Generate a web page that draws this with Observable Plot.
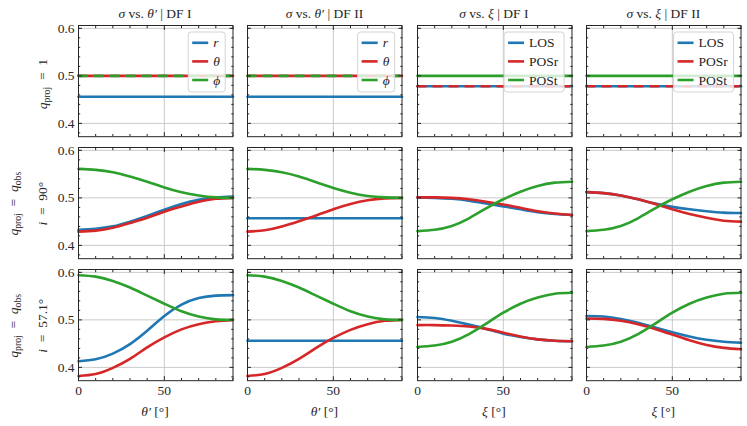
<!DOCTYPE html>
<html>
<head>
<meta charset="utf-8">
<script src="https://cdn.jsdelivr.net/npm/d3@7"></script>
<script src="https://cdn.jsdelivr.net/npm/@observablehq/plot@0.6"></script>
<style>
  body { margin: 0; background: #fff; }
  #chart { position: relative; width: 747px; height: 426px; overflow: hidden; background: #fff; }
  #chart svg.panel { position: absolute; }
  #overlay { position: absolute; left: 0; top: 0; pointer-events: none; }
</style>
</head>
<body>
<div id="chart"></div>
<script>
// ---------------- data ----------------
const angles = [0, 10, 20, 30, 40, 50, 60, 70, 80, 90];

// row 1: q_proj = 1
const thDF1_q1_r     = [0.456, 0.456, 0.456, 0.456, 0.456, 0.456, 0.456, 0.456, 0.456, 0.456];
const thDF1_q1_theta = [0.500, 0.500, 0.500, 0.500, 0.500, 0.500, 0.500, 0.500, 0.500, 0.500];
const thDF1_q1_phi   = [0.500, 0.500, 0.500, 0.500, 0.500, 0.500, 0.500, 0.500, 0.500, 0.500];
const thDF2_q1_r     = [0.456, 0.456, 0.456, 0.456, 0.456, 0.456, 0.456, 0.456, 0.456, 0.456];
const thDF2_q1_theta = [0.500, 0.500, 0.500, 0.500, 0.500, 0.500, 0.500, 0.500, 0.500, 0.500];
const thDF2_q1_phi   = [0.500, 0.500, 0.500, 0.500, 0.500, 0.500, 0.500, 0.500, 0.500, 0.500];
const xiDF1_q1_LOS   = [0.478, 0.478, 0.478, 0.478, 0.478, 0.478, 0.478, 0.478, 0.478, 0.478];
const xiDF1_q1_POSr  = [0.478, 0.478, 0.478, 0.478, 0.478, 0.478, 0.478, 0.478, 0.478, 0.478];
const xiDF1_q1_POSt  = [0.500, 0.500, 0.500, 0.500, 0.500, 0.500, 0.500, 0.500, 0.500, 0.500];
const xiDF2_q1_LOS   = [0.478, 0.478, 0.478, 0.478, 0.478, 0.478, 0.478, 0.478, 0.478, 0.478];
const xiDF2_q1_POSr  = [0.478, 0.478, 0.478, 0.478, 0.478, 0.478, 0.478, 0.478, 0.478, 0.478];
const xiDF2_q1_POSt  = [0.500, 0.500, 0.500, 0.500, 0.500, 0.500, 0.500, 0.500, 0.500, 0.500];

// row 2: q_proj = q_obs, i = 90°
const thDF1_i90_r     = [0.433, 0.435, 0.440, 0.450, 0.462, 0.475, 0.487, 0.496, 0.501, 0.503];
const thDF1_i90_theta = [0.429, 0.431, 0.437, 0.447, 0.458, 0.471, 0.482, 0.492, 0.498, 0.500];
const thDF1_i90_phi   = [0.561, 0.559, 0.554, 0.545, 0.534, 0.522, 0.512, 0.505, 0.501, 0.500];
const thDF2_i90_r     = [0.457, 0.457, 0.457, 0.457, 0.457, 0.457, 0.457, 0.457, 0.457, 0.457];
const thDF2_i90_theta = [0.429, 0.432, 0.440, 0.451, 0.463, 0.476, 0.487, 0.495, 0.499, 0.500];
const thDF2_i90_phi   = [0.561, 0.559, 0.554, 0.545, 0.533, 0.521, 0.511, 0.504, 0.501, 0.500];
const xiDF1_i90_LOS   = [0.501, 0.500, 0.498, 0.494, 0.488, 0.482, 0.476, 0.470, 0.466, 0.464];
const xiDF1_i90_POSr  = [0.501, 0.501, 0.500, 0.497, 0.492, 0.486, 0.479, 0.472, 0.467, 0.464];
const xiDF1_i90_POSt  = [0.430, 0.433, 0.441, 0.457, 0.478, 0.497, 0.513, 0.525, 0.532, 0.534];
const xiDF2_i90_LOS   = [0.512, 0.510, 0.505, 0.497, 0.488, 0.481, 0.476, 0.472, 0.469, 0.468];
const xiDF2_i90_POSr  = [0.512, 0.510, 0.505, 0.497, 0.487, 0.476, 0.466, 0.458, 0.452, 0.450];
const xiDF2_i90_POSt  = [0.430, 0.433, 0.441, 0.457, 0.478, 0.497, 0.513, 0.525, 0.532, 0.534];

// row 3: q_proj = q_obs, i = 57.1°
const thDF1_i57_r     = [0.413, 0.417, 0.429, 0.449, 0.477, 0.508, 0.532, 0.546, 0.551, 0.552];
const thDF1_i57_theta = [0.382, 0.386, 0.399, 0.418, 0.442, 0.463, 0.480, 0.491, 0.497, 0.500];
const thDF1_i57_phi   = [0.594, 0.591, 0.582, 0.568, 0.551, 0.534, 0.518, 0.507, 0.501, 0.500];
const thDF2_i57_r     = [0.456, 0.456, 0.456, 0.456, 0.456, 0.456, 0.456, 0.456, 0.456, 0.456];
const thDF2_i57_theta = [0.382, 0.386, 0.399, 0.418, 0.441, 0.462, 0.479, 0.491, 0.498, 0.500];
const thDF2_i57_phi   = [0.594, 0.591, 0.582, 0.568, 0.551, 0.534, 0.518, 0.507, 0.501, 0.500];
const xiDF1_i57_LOS   = [0.506, 0.504, 0.498, 0.490, 0.481, 0.471, 0.464, 0.459, 0.456, 0.455];
const xiDF1_i57_POSr  = [0.489, 0.489, 0.488, 0.486, 0.481, 0.473, 0.465, 0.459, 0.456, 0.455];
const xiDF1_i57_POSt  = [0.443, 0.446, 0.454, 0.470, 0.492, 0.515, 0.534, 0.547, 0.555, 0.557];
const xiDF2_i57_LOS   = [0.508, 0.507, 0.502, 0.494, 0.484, 0.474, 0.465, 0.458, 0.454, 0.452];
const xiDF2_i57_POSr  = [0.503, 0.502, 0.498, 0.491, 0.481, 0.469, 0.457, 0.447, 0.441, 0.438];
const xiDF2_i57_POSt  = [0.443, 0.446, 0.454, 0.470, 0.492, 0.515, 0.534, 0.547, 0.555, 0.557];

const thetaNames = ["r", "θ", "ϕ"];
const xiNames = ["LOS", "POSr", "POSt"];
const seriesColors = ["#1f77b4", "#d62728", "#2ca02c"];

const yMajorTicks = [0.4, 0.5, 0.6];
const yMinorTicks = [0.38, 0.42, 0.44, 0.46, 0.48, 0.52, 0.54, 0.56, 0.58, 0.60];
const xMajorTicks = [0, 50];
const xMinorTicks = [10, 20, 30, 40, 60, 70, 80, 90];

const colTitles = [
  [{t: "σ", i: 1}, {t: " vs. "}, {t: "θ′", i: 1}, {t: " | DF I"}],
  [{t: "σ", i: 1}, {t: " vs. "}, {t: "θ′", i: 1}, {t: " | DF II"}],
  [{t: "σ", i: 1}, {t: " vs. "}, {t: "ξ", i: 1}, {t: " | DF I"}],
  [{t: "σ", i: 1}, {t: " vs. "}, {t: "ξ", i: 1}, {t: " | DF II"}]
];
const qObs = [{t: "q", i: 1}, {t: "proj", sub: 1}, {t: "\u2002=\u2002"}, {t: "q", i: 1}, {t: "obs", sub: 1}];
const rowLabels = [
  [[{t: "q", i: 1}, {t: "proj", sub: 1}, {t: "\u2002=\u20021"}]],
  [qObs, [{t: "i", i: 1}, {t: "\u2002=\u200290°"}]],
  [qObs, [{t: "i", i: 1}, {t: "\u2002=\u200257.1°"}]]
];
const xLabels = [
  [{t: "θ′", i: 1}, {t: " [°]"}],
  [{t: "θ′", i: 1}, {t: " [°]"}],
  [{t: "ξ", i: 1}, {t: " [°]"}],
  [{t: "ξ", i: 1}, {t: " [°]"}]
];

const grid = [
  [[thDF1_q1_r, thDF1_q1_theta, thDF1_q1_phi], [thDF2_q1_r, thDF2_q1_theta, thDF2_q1_phi],
   [xiDF1_q1_LOS, xiDF1_q1_POSr, xiDF1_q1_POSt], [xiDF2_q1_LOS, xiDF2_q1_POSr, xiDF2_q1_POSt]],
  [[thDF1_i90_r, thDF1_i90_theta, thDF1_i90_phi], [thDF2_i90_r, thDF2_i90_theta, thDF2_i90_phi],
   [xiDF1_i90_LOS, xiDF1_i90_POSr, xiDF1_i90_POSt], [xiDF2_i90_LOS, xiDF2_i90_POSr, xiDF2_i90_POSt]],
  [[thDF1_i57_r, thDF1_i57_theta, thDF1_i57_phi], [thDF2_i57_r, thDF2_i57_theta, thDF2_i57_phi],
   [xiDF1_i57_LOS, xiDF1_i57_POSr, xiDF1_i57_POSt], [xiDF2_i57_LOS, xiDF2_i57_POSr, xiDF2_i57_POSt]]
];

// ---------------- layout ----------------
const FONT = "Liberation Serif, DejaVu Serif, serif";
const INK = "#262626";
const GRID = "#c4c4c4";
const colLeft = [77.7, 247.15, 416.6, 586.05];
const rowTop = [25, 147.1, 269.2];
const W = 154.5, H = 111.2;
const ML = 40, MR = 10, MT = 10, MB = 30;
const FS = 13.5;

const chart = document.getElementById("chart");

grid.forEach((rowPanels, row) => {
  rowPanels.forEach((vals, col) => {
    const names = col < 2 ? thetaNames : xiNames;
    const dashIdx = row === 0 ? (col < 2 ? 2 : 1) : -1;
    const table = vals.flatMap((arr, k) => arr.map((v, i) => ({angle: angles[i], value: v, series: names[k], k})));
    const marks = [
      Plot.gridX(xMajorTicks, {stroke: GRID, strokeOpacity: 1, strokeWidth: 0.9}),
      Plot.gridY(yMajorTicks, {stroke: GRID, strokeOpacity: 1, strokeWidth: 0.9}),
      ...names.map((n, k) => Plot.line(table.filter(d => d.k === k), {
        x: "angle", y: "value", stroke: seriesColors[k], strokeWidth: 2.6,
        curve: "natural", strokeDasharray: k === dashIdx ? "8,8" : undefined
      })),
      Plot.frame({stroke: INK, strokeWidth: 1}),
      // inward major/minor ticks on all four sides
      Plot.axisY(yMajorTicks, {anchor: "left", tickSize: 4, dx: 4, tickFormat: () => "", label: null, stroke: INK}),
      Plot.axisY(yMinorTicks, {anchor: "left", tickSize: 2.2, dx: 2.2, tickFormat: () => "", label: null, stroke: INK}),
      Plot.axisY(yMajorTicks, {anchor: "right", tickSize: 4, dx: -4, tickFormat: () => "", label: null, stroke: INK}),
      Plot.axisY(yMinorTicks, {anchor: "right", tickSize: 2.2, dx: -2.2, tickFormat: () => "", label: null, stroke: INK}),
      Plot.axisX(xMajorTicks, {anchor: "top", tickSize: 4, dy: 4, tickFormat: () => "", label: null, stroke: INK}),
      Plot.axisX(xMinorTicks, {anchor: "top", tickSize: 2.2, dy: 2.2, tickFormat: () => "", label: null, stroke: INK}),
      Plot.axisX(xMajorTicks, {anchor: "bottom", tickSize: 4, dy: -4, tickFormat: () => "", label: null, stroke: INK}),
      Plot.axisX(xMinorTicks, {anchor: "bottom", tickSize: 2.2, dy: -2.2, tickFormat: () => "", label: null, stroke: INK})
    ];
    if (col === 0) marks.push(Plot.axisY(yMajorTicks, {anchor: "left", tickSize: 0, tickPadding: 4, tickFormat: d3.format(".1f"), label: null, fontSize: FS, fontFamily: FONT, fill: INK}));
    if (row === 2) marks.push(Plot.axisX(xMajorTicks, {anchor: "bottom", tickSize: 0, tickPadding: 5, label: null, fontSize: FS, fontFamily: FONT, fill: INK}));
    const svg = Plot.plot({
      width: W + ML + MR, height: H + MT + MB,
      marginLeft: ML, marginRight: MR, marginTop: MT, marginBottom: MB,
      style: {background: "transparent", overflow: "visible", fontFamily: FONT, fontSize: FS + "px"},
      x: {domain: [0, 90]},
      y: {domain: [0.372, 0.606]},
      marks
    });
    svg.classList.add("panel");
    svg.style.left = (colLeft[col] - ML) + "px";
    svg.style.top = (rowTop[row] - MT) + "px";
    svg.style.background = "transparent";
    svg.style.overflow = "visible";
    svg.style.fontFamily = FONT;
    chart.appendChild(svg);
  });
});

// ---------------- overlay: titles, row labels, axis labels, legends ----------------
const ov = d3.select(chart).append("svg").attr("id", "overlay")
  .attr("width", 747).attr("height", 426)
  .attr("font-family", FONT).attr("fill", INK);

function rich(sel, parts, size) {
  const t = sel.append("text").attr("font-size", size).attr("text-anchor", "middle").attr("font-family", FONT);
  let shift = 0;
  parts.forEach(p => {
    const ts = t.append("tspan").text(p.t);
    if (p.i) ts.attr("font-style", "italic");
    const want = p.sub ? 3.2 : 0;
    if (want !== shift) { ts.attr("dy", want - shift); shift = want; }
    if (p.sub) ts.attr("font-size", size * 0.72);
  });
  return t;
}

colTitles.forEach((parts, col) => {
  rich(ov.append("g").attr("transform", `translate(${colLeft[col] + W / 2},17.5)`), parts, FS);
});
xLabels.forEach((parts, col) => {
  rich(ov.append("g").attr("transform", `translate(${colLeft[col] + W / 2},416)`), parts, FS);
});
rowLabels.forEach((lines, row) => {
  const cy = rowTop[row] + H / 2 + (lines.length === 1 ? 3.5 : 1);
  const xs = lines.length === 1 ? [46.5] : [18, 46.5];
  lines.forEach((parts, j) => {
    rich(ov.append("g").attr("transform", `translate(${xs[j]},${cy}) rotate(-90)`), parts, FS);
  });
});

// legends in top row
[0, 1, 2, 3].forEach(col => {
  const names = col < 2 ? thetaNames : xiNames;
  const bw = col < 2 ? 37 : 60, bh = 60;
  const x0 = colLeft[col] + W - 7 - bw, y0 = rowTop[0] + 7;
  const g = ov.append("g");
  g.append("rect").attr("x", x0).attr("y", y0).attr("width", bw).attr("height", bh)
    .attr("rx", 3).attr("fill", "#fff").attr("fill-opacity", 0.8)
    .attr("stroke", "#d4d4d4").attr("stroke-width", 1);
  names.forEach((n, k) => {
    const cy = y0 + 10.8 + k * 18.6;
    g.append("line").attr("x1", x0 + 4).attr("x2", x0 + 20).attr("y1", cy).attr("y2", cy)
      .attr("stroke", seriesColors[k]).attr("stroke-width", 2.6);
    const t = g.append("text").attr("x", x0 + 25).attr("y", cy + 4.5).attr("font-size", FS).attr("font-family", FONT).text(n);
    if (col < 2) t.attr("font-style", "italic");
  });
});
</script>
</body>
</html>
